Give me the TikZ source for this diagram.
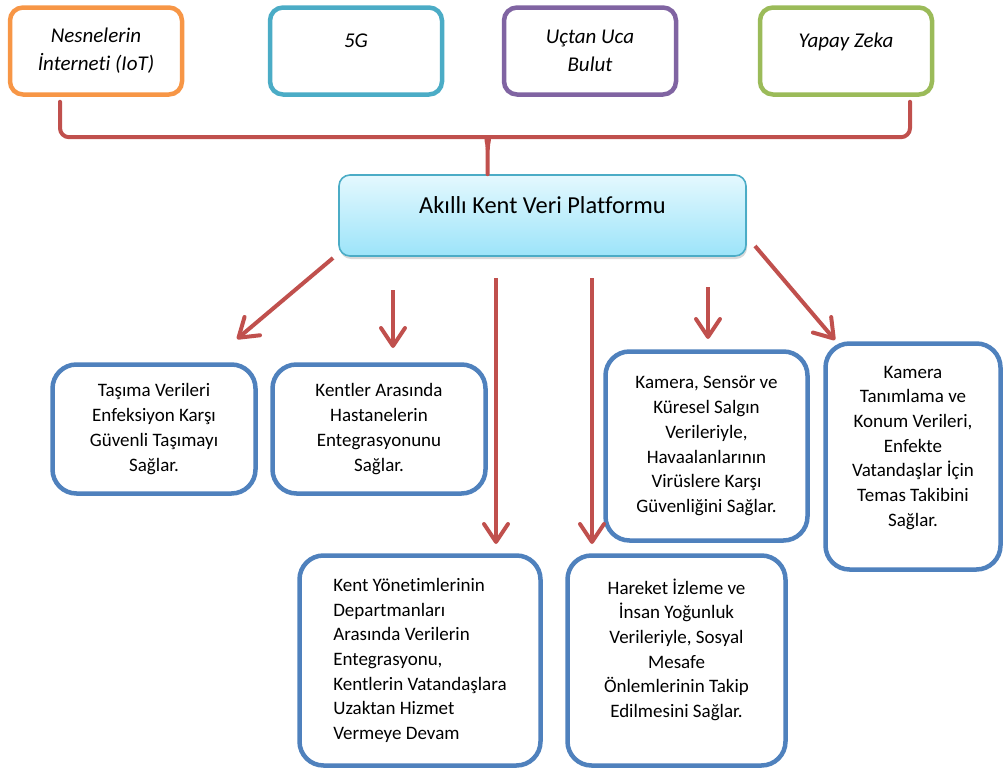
\documentclass[tikz,border=0pt]{standalone}
\usepackage{fontspec}
\setmainfont{Carlito}[Ligatures=NoCommon]
\usetikzlibrary{arrows.meta,calc,shadows}
\definecolor{techorange}{HTML}{F79646}
\definecolor{techcyan}{HTML}{4BACC6}
\definecolor{techpurple}{HTML}{8064A2}
\definecolor{techgreen}{HTML}{9BBB59}
\definecolor{linkred}{HTML}{C0504D}
\definecolor{useblue}{HTML}{4F81BD}
\definecolor{hubtop}{HTML}{E4F8FE}
\definecolor{hubbot}{HTML}{9CE4F9}
\tikzset{
  tech/.style={draw, line width=4.5pt, rounded corners=13pt, fill=white,
    minimum width=172pt, minimum height=87pt, align=center,
    font=\fontsize{21}{28}\selectfont\itshape},
  lift/.style={text height=14pt, text depth=21pt},
  flat/.style={},
  hub/.style={draw=techcyan, line width=1.6pt, rounded corners=11pt,
    top color=hubtop, bottom color=hubbot, minimum width=407pt, minimum height=81pt,
    font=\fontsize{24.4}{28}\selectfont, text height=17pt, text depth=22pt,
    drop shadow={shadow xshift=1pt, shadow yshift=-3pt, opacity=.3}},
  usecase/.style={draw=useblue, line width=4.5pt, rounded corners=24pt, fill=white,
    align=center, font=\fontsize{19}{24.7}\selectfont},
  feed/.style={draw=linkred, line width=4pt, line cap=round, line join=round},
  link/.style={-{Straight Barb[length=18pt, width=24pt, round]}, draw=linkred,
    line width=4pt}
}

\begin{document}
\begin{tikzpicture}[x=1pt, y=-1pt]
  \useasboundingbox (0,0) rectangle (1004,771);
  % technologies
  \foreach \nm/\x/\col/\lft/\txt in {iot/96/techorange/flat/{Nesnelerin\\İnterneti (IoT)},
                                    fiveg/356/techcyan/lift/{5G},
                                    edge/590/techpurple/flat/{Uçtan Uca\\Bulut},
                                    ai/846/techgreen/lift/{Yapay Zeka}}{
    \node[tech, draw=\col, \lft] (\nm) at (\x,51) {\txt};
  }
  % platform
  \node[hub] (hub) at (542.5,215.5) {Akıllı Kent Veri Platformu};
  % brace into the platform
  \coordinate (stem) at ($(hub.north west)+(149.5,0)$);
  \coordinate (iotfoot) at ($(iot.south)+(-36,5)$);
  \coordinate (aifoot) at ($(ai.south)+(64,5)$);
  \draw[feed, rounded corners=9pt] (iotfoot) |- ($(stem)+(-9,-37)$) [sharp corners]
    .. controls +(6,0) and +(0,-7) .. ($(stem)+(0,-25)$) -- (stem);
  \draw[feed, rounded corners=9pt] (aifoot) |- ($(stem)+(9,-37)$) [sharp corners]
    .. controls +(-6,0) and +(0,-7) .. ($(stem)+(0,-25)$);
  % uses
  \node[usecase, minimum width=203pt, minimum height=129pt] (taxi) at (154,429)
    {Taşıma Verileri\\Enfeksiyon Karşı\\Güvenli Taşımayı\\Sağlar.};
  \node[usecase, minimum width=213pt, minimum height=129pt] (hosp) at (379,429)
    {Kentler Arasında\\Hastanelerin\\Entegrasyonunu\\Sağlar.};
  \node[usecase, minimum width=202pt, minimum height=189pt] (air) at (706.5,446)
    {Kamera, Sensör ve\\Küresel Salgın\\Verileriyle,\\Havaalanlarının\\Virüslere Karşı\\Güvenliğini Sağlar.};
  \node[usecase, minimum width=175pt, minimum height=226pt, text depth=21pt] (trace) at (913,456.5)
    {Kamera\\Tanımlama ve\\Konum Verileri,\\Enfekte\\Vatandaşlar İçin\\Temas Takibini\\Sağlar.};
  \node[usecase, align=left, minimum width=241pt, minimum height=210pt] (gov) at (420,660.5)
    {Kent Yönetimlerinin\\Departmanları\\Arasında Verilerin\\Entegrasyonu,\\Kentlerin Vatandaşlara\\Uzaktan Hizmet\\Vermeye Devam};
  \node[usecase, minimum width=218pt, minimum height=210pt, text depth=25pt] (dist) at (676.5,660.5)
    {Hareket İzleme ve\\İnsan Yoğunluk\\Verileriyle, Sosyal\\Mesafe\\Önlemlerinin Takip\\Edilmesini Sağlar.};
  % arrows out of the platform
  \coordinate (s1) at (333,258);  \coordinate (e1) at (237,339);
  \coordinate (s2) at (393,290);  \coordinate (e2) at (393,348);
  \coordinate (s3) at (496,278);  \coordinate (e3) at (496,544);
  \coordinate (s4) at (592,278);  \coordinate (e4) at (592,544);
  \coordinate (s5) at (708,287);  \coordinate (e5) at (708,339);
  \coordinate (s6) at (755,246);  \coordinate (e6) at (835,340);
  \foreach \i in {1,...,6}
    \draw[link] (s\i) -- (e\i);
\end{tikzpicture}
\end{document}
